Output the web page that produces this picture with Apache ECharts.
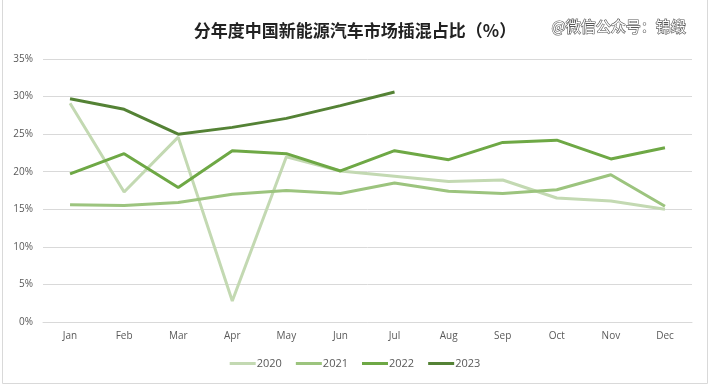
<!DOCTYPE html>
<html><head><meta charset="utf-8">
<script src="https://cdn.jsdelivr.net/npm/echarts@6/dist/echarts.min.js"></script>
<style>html,body{margin:0;padding:0;background:#fff}#c{width:710px;height:386px}</style>
</head><body><div id="c"></div>
<script>
const months = ['Jan','Feb','Mar','Apr','May','Jun','Jul','Aug','Sep','Oct','Nov','Dec'];
const yTicks = [0,5,10,15,20,25,30,35];
const s2020 = [29.1,17.3,24.6,2.8,22.0,20.1,19.4,18.7,18.9,16.5,16.1,15.0];
const s2021 = [15.6,15.5,15.9,17.0,17.5,17.1,18.5,17.4,17.1,17.6,19.6,15.4];
const s2022 = [19.7,22.4,17.9,22.8,22.4,20.1,22.8,21.6,23.9,24.2,21.7,23.2];
const s2023 = [29.7,28.3,25.0,25.9,27.1,28.8,30.6];
const names = ['2020','2021','2022','2023'];
const colors = ['#C3D9B2','#9CC47E','#6EA845','#548235'];
const data = [s2020,s2021,s2022,s2023];

const chart = echarts.init(document.getElementById('c'));
chart.setOption({
  animation:false,
  color:colors,
  title:{text:'分年度中国新能源汽车市场插混占比（%）',left:'center',top:17,
    textStyle:{fontFamily:'Noto Sans CJK SC',fontSize:17,fontWeight:'bold',color:'#222'}},
  graphic:[
    {type:'rect',shape:{x:2.5,y:-5,width:705,height:388.5},style:{fill:'none',stroke:'#d9d9d9',lineWidth:1},silent:true},
    {type:'text',left:551,top:18,style:{text:'@微信公众号：锦缎',fontFamily:'Noto Sans CJK SC',fontSize:15,fill:'#fff',stroke:'#555',lineWidth:1.2}}
  ],
  legend:{bottom:12,left:'center',itemWidth:26,itemHeight:3,itemGap:14,icon:'rect',
    textStyle:{fontFamily:'Open Sans',fontSize:11,color:'#595959',padding:[0,0,0,-4]},
    data:names},
  grid:{left:43,right:18,top:59,bottom:64},
  xAxis:{type:'category',data:months,boundaryGap:true,
    axisLine:{show:true,lineStyle:{color:'#d9d9d9'}},axisTick:{show:false},
    axisLabel:{fontFamily:'Open Sans',fontSize:10,color:'#595959',margin:9}},
  yAxis:{type:'value',min:0,max:35,interval:5,
    axisLine:{show:false},axisTick:{show:false},
    splitLine:{lineStyle:{color:'#d9d9d9'}},
    axisLabel:{fontFamily:'Open Sans',fontSize:10,color:'#595959',margin:10,formatter:v=>v+'%'}},
  series:data.map((d,i)=>({name:names[i],type:'line',data:d,symbol:'none',
    lineStyle:{width:3,color:colors[i]},itemStyle:{color:colors[i]}}))
});
</script></body></html>
